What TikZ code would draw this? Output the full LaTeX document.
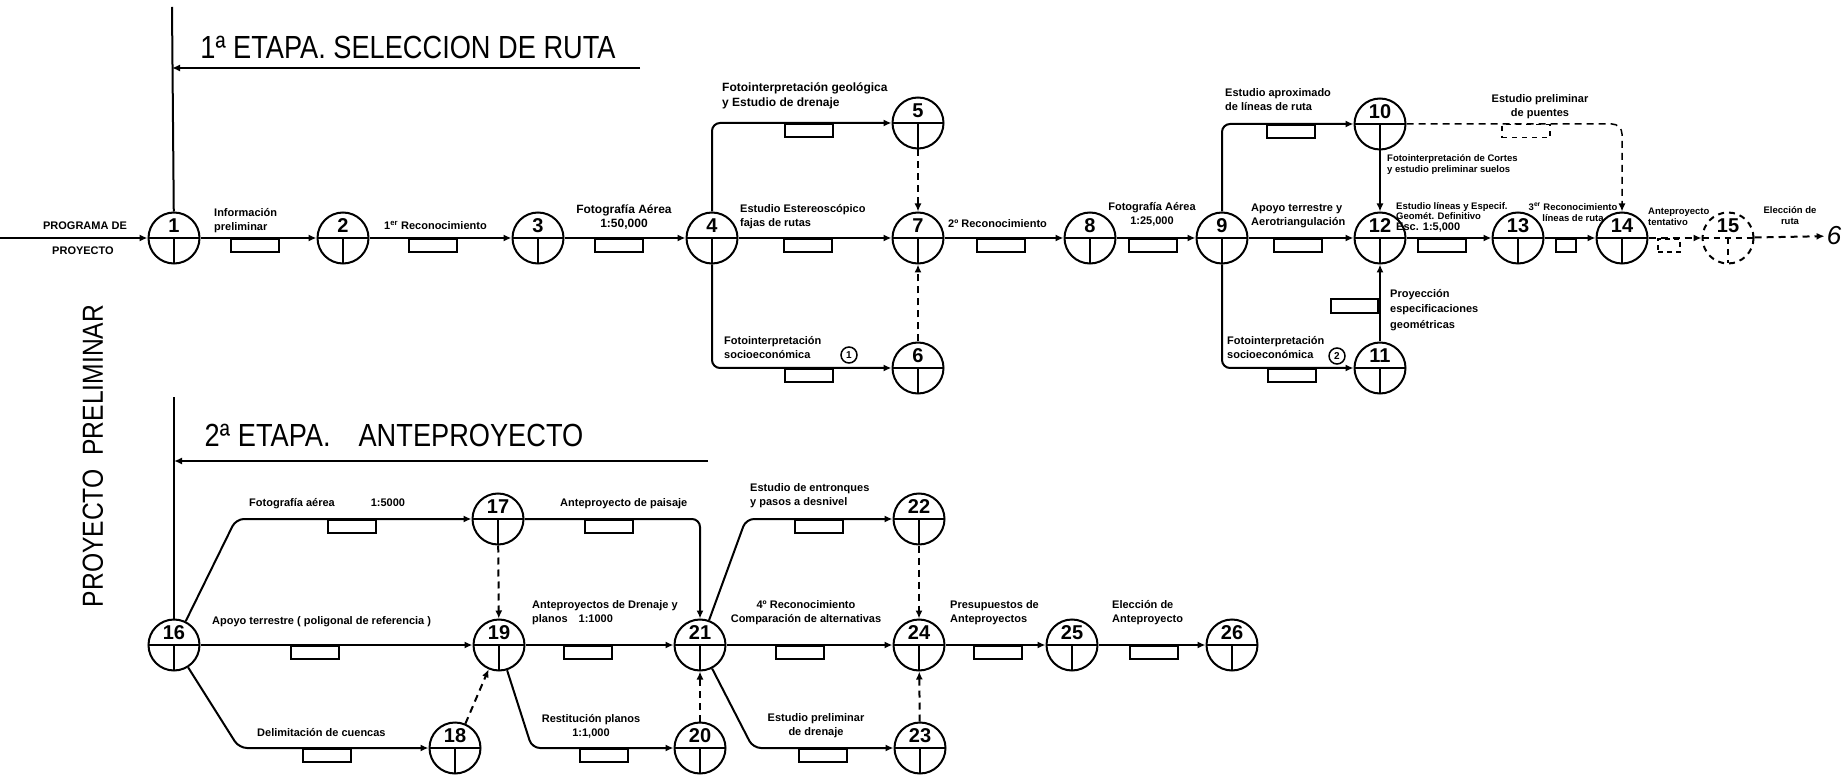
\documentclass[tikz,border=0pt]{standalone}
\usepackage{fontspec}
\setmainfont{Liberation Sans}
\newfontfamily\titlef[FakeStretch=0.85]{Liberation Sans}
\usetikzlibrary{arrows.meta}
\begin{document}
\begin{tikzpicture}[x=1pt,y=-1pt,
  ev/.style={circle, draw, line width=2pt, minimum size=51pt, inner sep=0pt,
    font=\fontsize{20}{20}\selectfont\bfseries, text height=15pt, text depth=26pt,
    path picture={\draw[line width=2pt] (path picture bounding box.west) -- (path picture bounding box.east)
      (path picture bounding box.center) -- (path picture bounding box.south);}},
  evd/.style={ev, dashed, dash pattern=on 6pt off 5pt},
  con/.style={line width=2pt, -{Latex[length=8pt,width=7pt]}},
  plain/.style={line width=2pt},
  dum/.style={con, dash pattern=on 7pt off 5pt},
  act/.style={draw, line width=1.8pt, minimum width=48pt, minimum height=13pt, inner sep=0pt, anchor=north},
  lab/.style={font=\fontsize{11}{14}\selectfont\bfseries, align=left, inner sep=0pt},
  labs/.style={font=\fontsize{9.5}{11}\selectfont\bfseries, align=left, inner sep=0pt},
  title/.style={font=\titlef\fontsize{32}{32}\selectfont, inner sep=0pt},
  cnum/.style={circle, draw, line width=1.5pt, minimum size=16pt, inner sep=0pt, font=\fontsize{10}{10}\selectfont\bfseries},
]
\fill[white] (0,0) rectangle (1844,775);
\useasboundingbox (0,0) rectangle (1844,775);

% ---------- stage 1 ----------
\node[title] (t1) at (408,47) {1ª ETAPA. SELECCION DE RUTA};
\node[title, font=\titlef\fontsize{29}{29}\selectfont, rotate=90] (side) at (93,456) {PROYECTO\ \ PRELIMINAR};

\node[ev] (n1) at (174,238) {1};
\node[ev] (n2) at (343,238) {2};
\node[ev] (n3) at (538,238) {3};
\node[ev] (n4) at (712,238) {4};
\node[ev] (n5) at (918,123) {5};
\node[ev] (n7) at (918,238) {7};
\node[ev] (n6) at (918,368) {6};
\node[ev] (n8) at (1090,238) {8};
\node[ev] (n9) at (1222,238) {9};
\node[ev] (n10) at (1380,124) {10};
\node[ev] (n12) at (1380,238) {12};
\node[ev] (n11) at (1380,368) {11};
\node[ev] (n13) at (1518,238) {13};
\node[ev] (n14) at (1622,238) {14};
\node[evd] (n15) at (1728,238) {15};
\node[font=\fontsize{26}{26}\selectfont\itshape, inner sep=2pt] (t6) at (1834,236) {6};

\coordinate (v1) at (172,7);
\draw[plain] (v1) -- (n1);
\coordinate (a1e) at (640,68);
\coordinate (a1s) at (172,68);
\draw[con] (a1e) -- (a1s);

\coordinate (s0) at (0,238);
\draw[con] (s0) -- (n1);
\draw[con] (n1) -- (n2);
\draw[con] (n2) -- (n3);
\draw[con] (n3) -- (n4);
\draw[con] (n4) -- (n7);
\draw[con, rounded corners=8pt] (n4) |- (n5);
\draw[con, rounded corners=8pt] (n4) |- (n6);
\draw[dum] (n5) -- (n7);
\draw[dum] (n6) -- (n7);
\draw[con] (n7) -- (n8);
\draw[con] (n8) -- (n9);
\draw[con] (n9) -- (n12);
\draw[con, rounded corners=8pt] (n9) |- (n10);
\draw[con, rounded corners=8pt] (n9) |- (n11);
\draw[con] (n10) -- (n12);
\draw[con] (n11) -- (n12);
\draw[dum, line width=1.5pt, rounded corners=10pt] (n10) -| (n14);
\draw[con] (n12) -- (n13);
\draw[con] (n13) -- (n14);
\draw[dum] (n14) -- (n15);
\draw[dum] (n15) -- (t6);

% activity boxes
\node[act] (r1) at (255,238) {};
\node[act] (r2) at (433,238) {};
\node[act] (r3) at (619,238) {};
\node[act] (r4) at (809,123) {};
\node[act] (r5) at (808,238) {};
\node[act] (r6) at (809,368) {};
\node[act] (r7) at (1001,238) {};
\node[act] (r8) at (1153,238) {};
\node[act] (r9) at (1291,124) {};
\node[act] (r10) at (1298,238) {};
\node[act] (r11) at (1292,368) {};
\node[act] (r12) at (1442,238) {};
\node[act, minimum width=20pt] (r13) at (1566,238) {};
\node[act, minimum width=22pt, dashed, dash pattern=on 5pt off 4pt] (r14) at (1669,238) {};
\node[act, dashed, dash pattern=on 5pt off 5pt, line width=1.4pt] (r15) at (1526,124) {};
\node[act, anchor=east, minimum width=47pt, minimum height=14pt] (r16) at (1379,306) {};

% labels
\node[lab, align=center] (p0) at (85,226) {PROGRAMA DE};
\node[lab, align=center] (p1) at (83,251) {PROYECTO};
\node[lab, anchor=west] (l1) at (214,221) {Información\\preliminar};
\node[lab, anchor=west] (l2) at (384,225) {1\textsuperscript{er} Reconocimiento};
\node[lab, align=center, font=\fontsize{12}{14}\selectfont\bfseries] (l3) at (624,217) {Fotografía Aérea\\1:50,000};
\node[lab, anchor=west, font=\fontsize{12}{15}\selectfont\bfseries] (l4) at (722,96) {Fotointerpretación geológica\\y Estudio de drenaje};
\node[lab, anchor=west] (l5) at (740,217) {Estudio Estereoscópico\\fajas de rutas};
\node[lab, anchor=west] (l6) at (724,348) {Fotointerpretación\\socioeconómica};
\node[cnum] (c1) at (849,355) {1};
\node[lab, anchor=west] (l7) at (948,224) {2º Reconocimiento};
\node[lab, align=center] (l8) at (1152,214) {Fotografía Aérea\\1:25,000};
\node[lab, anchor=west] (l9) at (1225,100) {Estudio aproximado\\de líneas de ruta};
\node[lab, align=center] (l10) at (1540,107) {Estudio preliminar\\de puentes};
\node[labs, anchor=west] (l11) at (1387,165) {Fotointerpretación de Cortes\\y estudio preliminar suelos};
\node[lab, anchor=west] (l12) at (1251,216) {Apoyo terrestre y\\Aerotriangulación};
\node[labs, anchor=west, font=\fontsize{9.5}{10.5}\selectfont\bfseries] (l13) at (1396,217) {Estudio líneas y Especif.\\Geomét. Definitivo\\{\fontsize{11}{11}\selectfont Esc. 1:5,000}};
\node[labs, align=center] (l14) at (1573,212) {3\textsuperscript{er} Reconocimiento\\líneas de ruta};
\node[labs, anchor=west] (l15) at (1648,217) {Anteproyecto\\tentativo};
\node[labs, align=center] (l16) at (1790,216) {Elección de\\ruta};
\node[lab, anchor=west, font=\fontsize{11}{15.5}\selectfont\bfseries] (l17) at (1390,310) {Proyección\\especificaciones\\geométricas};
\node[lab, anchor=west] (l18) at (1227,348) {Fotointerpretación\\socioeconómica};
\node[cnum] (c2) at (1337,356) {2};

% ---------- stage 2 ----------
\node[title] (t2) at (394,435) {2ª\hspace{8pt}ETAPA.\hspace{28pt}ANTEPROYECTO};

\node[ev] (n16) at (174,645) {16};
\node[ev] (n17) at (498,519) {17};
\node[ev] (n19) at (499,645) {19};
\node[ev] (n18) at (455,748) {18};
\node[ev] (n21) at (700,645) {21};
\node[ev] (n20) at (700,748) {20};
\node[ev] (n22) at (919,519) {22};
\node[ev] (n24) at (919,645) {24};
\node[ev] (n23) at (920,748) {23};
\node[ev] (n25) at (1072,645) {25};
\node[ev] (n26) at (1232,645) {26};

\coordinate (v2) at (174,397);
\draw[plain] (v2) -- (n16);
\coordinate (a2e) at (708,461);
\coordinate (a2s) at (174,461);
\draw[con] (a2e) -- (a2s);

\coordinate (c16a) at (236,519);
\coordinate (c16b) at (239,748);
\coordinate (c19) at (532,748);
\coordinate (c21a) at (746,519);
\coordinate (c21b) at (753,748);
\draw[con, rounded corners=8pt] (n16) -- (c16a) -- (n17);
\draw[con] (n16) -- (n19);
\draw[con, rounded corners=8pt] (n16) -- (c16b) -- (n18);
\draw[con, rounded corners=8pt] (n17) -| (n21);
\draw[dum] (n17) -- (n19);
\draw[dum] (n18) -- (n19);
\draw[con] (n19) -- (n21);
\draw[con, rounded corners=8pt] (n19) -- (c19) -- (n20);
\draw[dum] (n20) -- (n21);
\draw[con, rounded corners=8pt] (n21) -- (c21a) -- (n22);
\draw[con] (n21) -- (n24);
\draw[con, rounded corners=8pt] (n21) -- (c21b) -- (n23);
\draw[dum] (n22) -- (n24);
\draw[dum] (n23) -- (n24);
\draw[con] (n24) -- (n25);
\draw[con] (n25) -- (n26);

\node[act] (b1) at (352,519) {};
\node[act] (b2) at (609,519) {};
\node[act] (b3) at (315,645) {};
\node[act] (b4) at (588,645) {};
\node[act] (b5) at (327,748) {};
\node[act] (b6) at (604,748) {};
\node[act] (b7) at (819,519) {};
\node[act] (b8) at (800,645) {};
\node[act] (b9) at (823,748) {};
\node[act] (b10) at (998,645) {};
\node[act] (b11) at (1154,645) {};

\node[lab, anchor=west] (m1) at (249,504) {Fotografía aérea\hspace{36pt}1:5000};
\node[lab, anchor=west] (m2) at (560,504) {Anteproyecto de paisaje};
\node[lab, anchor=west] (m3) at (212,622) {Apoyo terrestre ( poligonal de referencia )};
\node[lab, anchor=west] (m4) at (532,613) {Anteproyectos de Drenaje y\\planos\quad 1:1000};
\node[lab, anchor=west] (m5) at (257,733) {Delimitación de cuencas};
\node[lab, align=center] (m6) at (591,726) {Restitución planos\\1:1,000};
\node[lab, anchor=west] (m7) at (750,496) {Estudio de entronques\\y pasos a desnivel};
\node[lab, align=center] (m8) at (806,613) {4º Reconocimiento\\Comparación de alternativas};
\node[lab, align=center] (m9) at (816,726) {Estudio preliminar\\de drenaje};
\node[lab, anchor=west] (m10) at (950,613) {Presupuestos de\\Anteproyectos};
\node[lab, anchor=west] (m11) at (1112,613) {Elección de\\Anteproyecto};
\end{tikzpicture}
\end{document}
